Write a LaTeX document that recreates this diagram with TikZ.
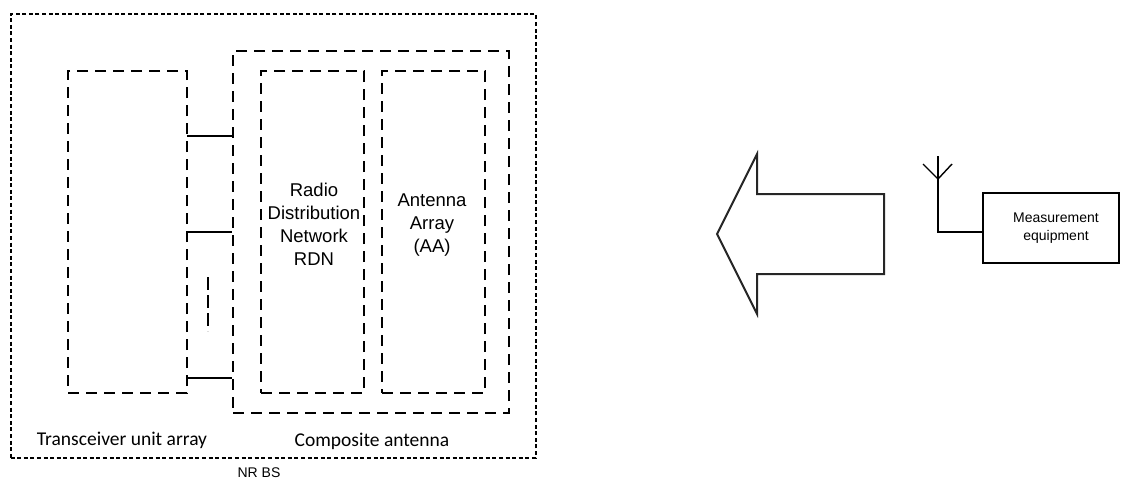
\documentclass[tikz,border=0pt]{standalone}
\usepackage{fontspec}
\setmainfont{Liberation Sans}
\newfontfamily\calib{Carlito}
\begin{document}
\begin{tikzpicture}[x=1pt,y=-1pt,
  outerbox/.style={draw, line width=2pt, dash pattern=on 4pt off 2.6pt, inner sep=0pt},
  innerbox/.style={draw, line width=2pt, dash pattern=on 11pt off 7pt, inner sep=0pt},
  link/.style={line width=2pt},
  solidbox/.style={draw, line width=1.6pt, inner sep=0pt},
  biglabel/.style={align=center, font=\fontsize{18.5}{23}\selectfont},
  calilabel/.style={font=\calib\fontsize{19.5}{22}\selectfont},
  smalllabel/.style={align=center, font=\fontsize{14}{18}\selectfont}]
\useasboundingbox (0,0) rectangle (1121,480);
% boxes
\node[outerbox, minimum width=525pt, minimum height=444pt] (bs) at (273,236) {};
\node[innerbox, minimum width=276pt, minimum height=362pt] (comp) at (371,232) {};
\node[innerbox, minimum width=119pt, minimum height=322pt] (trx) at (127.5,232) {};
\node[innerbox, minimum width=103pt, minimum height=322pt] (rdn) at (312.5,232) {};
\node[innerbox, minimum width=103pt, minimum height=322pt] (aa) at (433.5,232) {};
% connectors
\coordinate (c1) at (187,135.5);
\coordinate (c2) at (187,232);
\coordinate (c3) at (187,378);
\draw[link] (c1) -- (c1 -| comp.west);
\draw[link] (c2) -- (c2 -| comp.west);
\draw[link] (c3) -- (c3 -| comp.west);
\coordinate (d1) at (208,277);
\coordinate (d2) at (208,331);
\draw[line width=2pt, dash pattern=on 13pt off 5pt] (d1) -- (d2);
% labels
\node[biglabel] (rdnt) at (314,224) {Radio\\Distribution\\Network\\RDN};
\node[biglabel] (aat) at (432,225) {Antenna\\Array\\(AA)};
\node[calilabel] (trxt) at (122,440) {Transceiver unit array};
\node[calilabel] (compt) at (372,441) {Composite antenna};
\node[font=\fontsize{14}{16}\selectfont] (bst) at (259,473) {NR BS};
% big arrow
\draw[line width=2pt, draw=black!85, line join=miter]
  (717,234) coordinate (tip) -- (757,154) -- (757,194) -- (884,194) -- (884,274) -- (757,274) -- (757,314) -- cycle;
% measurement equipment
\node[solidbox, minimum width=136pt, minimum height=70pt] (meas) at (1051,228) {};
\node[smalllabel] (meast) at (1056,228) {Measurement\\equipment};
\coordinate (antTop) at (938,156);
\coordinate (antApex) at (938,179);
\coordinate (armL) at (923,164);
\coordinate (armR) at (952,164);
\coordinate (feed) at (938,232);
\draw[line width=1.4pt] (armL) -- (antApex) -- (armR);
\draw[line width=1.4pt] (antTop) -- (feed) -- (feed -| meas.west);
\end{tikzpicture}
\end{document}
